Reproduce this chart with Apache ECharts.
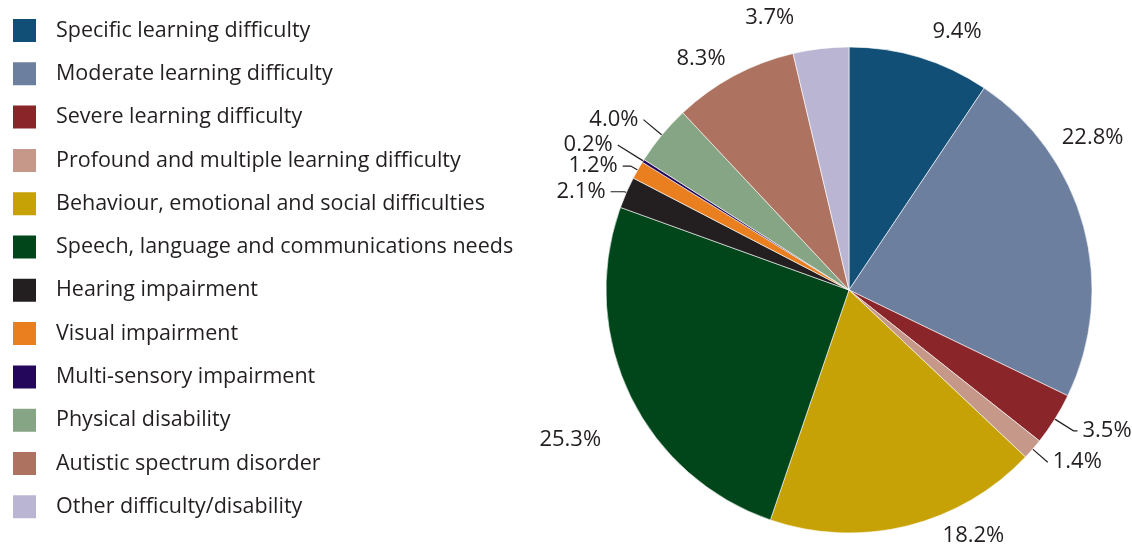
<!DOCTYPE html>
<html>
<head>
<meta charset="utf-8">
<script src="https://cdn.jsdelivr.net/npm/echarts@6/dist/echarts.min.js"></script>
<style>
  html, body { margin: 0; padding: 0; background: #ffffff; }
  #chart { width: 1132px; height: 545px; }
</style>
</head>
<body>
<div id="chart"></div>
<script>
// Share of pupils by primary type of need (%)
const categories = [
  'Specific learning difficulty',
  'Moderate learning difficulty',
  'Severe learning difficulty',
  'Profound and multiple learning difficulty',
  'Behaviour, emotional and social difficulties',
  'Speech, language and communications needs',
  'Hearing impairment',
  'Visual impairment',
  'Multi-sensory impairment',
  'Physical disability',
  'Autistic spectrum disorder',
  'Other difficulty/disability'
];
const shares = [9.4, 22.8, 3.5, 1.4, 18.2, 25.3, 2.1, 1.2, 0.2, 4.0, 8.3, 3.7];

const colours = [
  '#124f77', '#6c7f9e', '#8a2529', '#c59889', '#c6a206', '#00461a',
  '#231f20', '#e97f1e', '#24065a', '#86a585', '#ad7260', '#bab5d2'
];

// Leader geometry per slice: radial length, horizontal length, line drawn
const leaders = [
  [27, 0, false], [337, -352, false], [22, 4, true], [20, 0, true],
  [10, 28, false], [104, -70, false], [2, 14, true], [8, 8, true],
  [30, 0, true], [24, 0, true], [20, -6, false], [31, 18, false]
];

const textColour = '#231f20';
const fontFamily = '"Open Sans", "Noto Sans", sans-serif';

const pieData = categories.map((name, i) => ({
  name: name,
  value: shares[i],
  itemStyle: { color: colours[i] },
  labelLine: {
    show: leaders[i][2],
    length: leaders[i][0],
    length2: leaders[i][1]
  }
}));

const chart = echarts.init(document.getElementById('chart'), null, { renderer: 'canvas' });
chart.setOption({
  animation: false,
  backgroundColor: '#ffffff',
  legend: {
    orient: 'vertical',
    left: 11,
    top: 17,
    padding: 0,
    icon: 'rect',
    itemWidth: 25,
    itemHeight: 25,
    itemGap: 16.3,
    selectedMode: false,
    data: categories,
    textStyle: {
      color: textColour,
      fontFamily: fontFamily,
      fontSize: 21.5,
      lineHeight: 20,
      padding: [0, 0, 0, 14]
    }
  },
  series: [{
    type: 'pie',
    center: [849, 290],
    radius: 243,
    startAngle: 90,
    clockwise: true,
    avoidLabelOverlap: false,
    labelLayout: { hideOverlap: false },
    silent: true,
    itemStyle: { borderColor: '#ffffff', borderWidth: 0.6 },
    label: {
      show: true,
      position: 'outside',
      color: textColour,
      fontFamily: fontFamily,
      fontSize: 22,
      distanceToLabelLine: 5,
      formatter: p => p.value.toFixed(1) + '%'
    },
    labelLine: {
      lineStyle: { color: textColour, width: 1.2 }
    },
    data: pieData
  }]
});
</script>
</body>
</html>
